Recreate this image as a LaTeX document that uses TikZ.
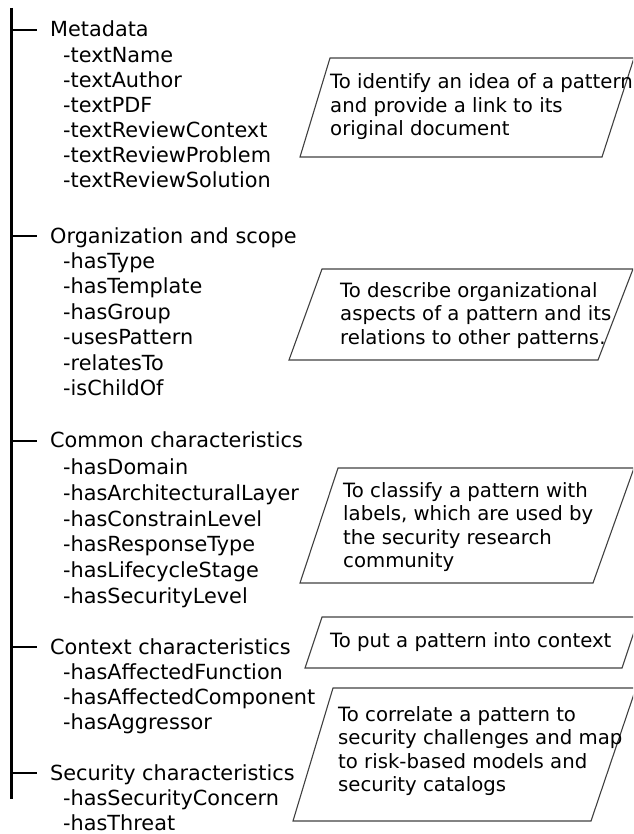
\documentclass[tikz,border=0pt]{standalone}
\usepackage{fontspec}
\setmainfont{DejaVu Sans}
\begin{document}
\begin{tikzpicture}[x=1pt,y=-1pt,
  head/.style={anchor=base west, inner sep=0pt, font=\fontsize{20.8}{24}\selectfont},
  attr/.style={head},
  note/.style={anchor=north west, inner sep=0pt, align=left, font=\fontsize{19.7}{23.5}\selectfont},
  notebox/.style={draw=black!75, line width=1.1pt, line join=miter},
  trunk/.style={line width=3pt},
  twig/.style={line width=2.4pt}]
\useasboundingbox (0,0) rectangle (633,834);
\clip (0,0) rectangle (633,834);

% main trunk of the tree
\coordinate (top) at (11,8);
\coordinate (bot) at (11,799);
\draw[trunk] (top) -- (bot);

% --- Metadata ---
\node[head] (meta) at (50,37) {Metadata};
\node[attr] (m1) at (63,63)  {-textName};
\node[attr] (m2) at (63,88)  {-textAuthor};
\node[attr] (m3) at (63,113) {-textPDF};
\node[attr] (m4) at (63,138) {-textReviewContext};
\node[attr] (m5) at (63,163) {-textReviewProblem};
\node[attr] (m6) at (63,188) {-textReviewSolution};
\coordinate (jm) at (11,30);
\coordinate (em) at (37,30);
\draw[twig] (jm) -- (em);

% --- Organization and scope ---
\node[head] (org) at (50,243) {Organization and scope};
\node[attr] (o1) at (63,268) {-hasType};
\node[attr] (o2) at (63,293) {-hasTemplate};
\node[attr] (o3) at (63,319) {-hasGroup};
\node[attr] (o4) at (63,344) {-usesPattern};
\node[attr] (o5) at (63,370) {-relatesTo};
\node[attr] (o6) at (63,395) {-isChildOf};
\coordinate (jo) at (11,236);
\coordinate (eo) at (37,236);
\draw[twig] (jo) -- (eo);

% --- Common characteristics ---
\node[head] (com) at (50,447) {Common characteristics};
\node[attr] (c1) at (63,474) {-hasDomain};
\node[attr] (c2) at (63,500) {-hasArchitecturalLayer};
\node[attr] (c3) at (63,526) {-hasConstrainLevel};
\node[attr] (c4) at (63,551) {-hasResponseType};
\node[attr] (c5) at (63,577) {-hasLifecycleStage};
\node[attr] (c6) at (63,603) {-hasSecurityLevel};
\coordinate (jc) at (11,441);
\coordinate (ec) at (37,441);
\draw[twig] (jc) -- (ec);

% --- Context characteristics ---
\node[head] (ctx) at (50,654) {Context characteristics};
\node[attr] (x1) at (63,679) {-hasAffectedFunction};
\node[attr] (x2) at (63,704) {-hasAffectedComponent};
\node[attr] (x3) at (63,729) {-hasAggressor};
\coordinate (jx) at (11,647);
\coordinate (ex) at (37,647);
\draw[twig] (jx) -- (ex);

% --- Security characteristics ---
\node[head] (sec) at (50,780) {Security characteristics};
\node[attr] (s1) at (63,805) {-hasSecurityConcern};
\node[attr] (s2) at (63,830) {-hasThreat};
\coordinate (js) at (11,773);
\coordinate (es) at (37,773);
\draw[twig] (js) -- (es);

% --- explanatory parallelograms ---
\draw[notebox] (330,58) -- (634,58) -- (602,157) -- (300,157) -- cycle;
\node[note] (n1) at (330,73.5) {To identify an idea of a pattern\\and provide a link to its\\original document};

\draw[notebox] (322,269) -- (633,269) -- (598,360) -- (289,360) -- cycle;
\node[note] (n2) at (340,282) {To describe organizational\\aspects of a pattern and its\\relations to other patterns.};

\draw[notebox] (338,468) -- (634,468) -- (593,583) -- (300,583) -- cycle;
\node[note] (n3) at (343,482) {To classify a pattern with\\labels, which are used by\\the security research\\community};

\draw[notebox] (322,617) -- (639,617) -- (622,668) -- (305,668) -- cycle;
\node[note] (n4) at (330,632.5) {To put a pattern into context};

\draw[notebox] (333,688) -- (636,688) -- (591,821) -- (293,821) -- cycle;
\node[note] (n5) at (338,706) {To correlate a pattern to\\security challenges and map\\to risk-based models and\\security catalogs};
\end{tikzpicture}
\end{document}
